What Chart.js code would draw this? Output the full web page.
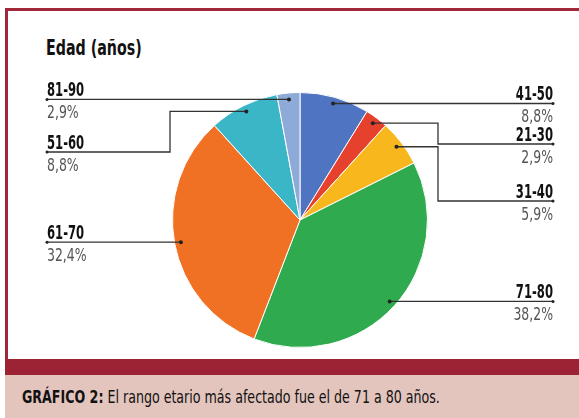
<!DOCTYPE html>
<html>
<head>
<meta charset="utf-8">
<script src="https://cdn.jsdelivr.net/npm/chart.js@4"></script>
<style>
  body { margin: 0; background: #fff; }
  #wrap { position: relative; width: 579px; height: 418px; overflow: hidden;
          font-family: "DejaVu Sans Condensed", "DejaVu Sans", sans-serif; }
  #frame { position: absolute; left: 5px; top: 8px; width: 574px; height: 351px;
           border-top: 3px solid #a0283a; border-left: 3px solid #a0283a; box-sizing: border-box; }
  #band { position: absolute; left: 5px; top: 359px; width: 574px; height: 16px; background: #9b2333; }
  #foot { position: absolute; left: 5px; top: 375px; width: 574px; height: 43px; background: #e3c5be; }
  #caption { position: absolute; left: 22px; top: 386px; font-size: 18px; color: #111; white-space: nowrap;
             transform: scaleX(0.78); transform-origin: 0 0; }
  #title { position: absolute; left: 46px; top: 35px; font-size: 22px; font-weight: bold; color: #111;
           white-space: nowrap; transform: scaleX(0.72); transform-origin: 0 0; }
  canvas { position: absolute; left: 0; top: 0; }
</style>
</head>
<body>
<div id="wrap">
  <div id="frame"></div>
  <div id="band"></div>
  <div id="foot"></div>
  <div id="title">Edad (años)</div>
  <div id="caption"><b>GRÁFICO 2:</b> El rango etario más afectado fue el de 71 a 80 años.</div>
  <canvas id="myChart" width="579" height="418"></canvas>
</div>
<script>
// chart data, clockwise from 12 o'clock
let categories = ['41-50', '21-30', '31-40', '71-80', '61-70', '51-60', '81-90'];
let shares = [8.8, 2.9, 5.9, 38.2, 32.4, 8.8, 2.9];
let colors = ['#4f74c2', '#e5412d', '#f7b71d', '#2faa4f', '#f07024', '#3bb6c6', '#8eaad8'];

// where each callout goes (elbowX / lineY only for the bent ones)
let callouts = [
    {side: 'right'},
    {side: 'right', elbowX: 438, lineY: 144},
    {side: 'right', elbowX: 438, lineY: 201},
    {side: 'right'},
    {side: 'left'},
    {side: 'left', elbowX: 170, lineY: 152},
    {side: 'left'}
];
let leftX = 47, rightX = 553;
let fontFam = '"DejaVu Sans Condensed", "DejaVu Sans", sans-serif';

function pct(v) {
    return v.toFixed(1).replace('.', ',') + '%';
}

// condensed text: squeeze horizontally around the anchor
function narrowText(c, text, x, y, sx) {
    c.save();
    c.translate(x, y);
    c.scale(sx, 1);
    c.fillText(text, 0, 0);
    c.restore();
}

let calloutPlugin = {
    id: 'callouts',
    afterDatasetsDraw(chart) {
        let c = chart.ctx;
        let arcs = chart.getDatasetMeta(0).data;
        c.save();
        arcs.forEach((arc, i) => {
            let p = arc.getProps(['x', 'y', 'startAngle', 'endAngle', 'outerRadius'], true);
            let mid = (p.startAngle + p.endAngle) / 2;
            let r = p.outerRadius * 0.95;
            let px = p.x + Math.cos(mid) * r;
            let py = p.y + Math.sin(mid) * r;
            let co = callouts[i];
            let endX = co.side === 'right' ? rightX : leftX;
            let lineY = co.lineY !== undefined ? co.lineY : py;

            c.strokeStyle = '#333';
            c.lineWidth = 1.3;
            c.beginPath();
            c.moveTo(px, py);
            if (co.elbowX !== undefined) {
                c.lineTo(co.elbowX, py);
                c.lineTo(co.elbowX, lineY);
            }
            c.lineTo(endX, lineY);
            c.stroke();

            c.fillStyle = '#222';
            c.beginPath(); c.arc(px, py, 2, 0, Math.PI * 2); c.fill();
            c.beginPath(); c.arc(endX, lineY, 1.5, 0, Math.PI * 2); c.fill();

            c.textAlign = co.side === 'right' ? 'right' : 'left';
            c.textBaseline = 'alphabetic';
            c.font = 'bold 19px ' + fontFam;
            c.fillStyle = '#111';
            narrowText(c, categories[i], endX, lineY - 3, 0.68);
            c.font = '18px ' + fontFam;
            c.fillStyle = '#555';
            narrowText(c, pct(shares[i]), endX, lineY + 19, 0.77);
        });
        c.restore();
    }
};

let ctx = document.getElementById('myChart');
let myChart = new Chart(ctx, {
    type: 'pie',
    data: {
        labels: categories,
        datasets: [{
            data: shares,
            backgroundColor: colors,
            borderColor: '#fff',
            borderWidth: 1
        }]
    },
    options: {
        responsive: false,
        animation: false,
        layout: {padding: {left: 172, right: 151, top: 92, bottom: 70}},
        plugins: {legend: {display: false}, tooltip: {enabled: false}}
    },
    plugins: [calloutPlugin]
});
</script>
</body>
</html>
